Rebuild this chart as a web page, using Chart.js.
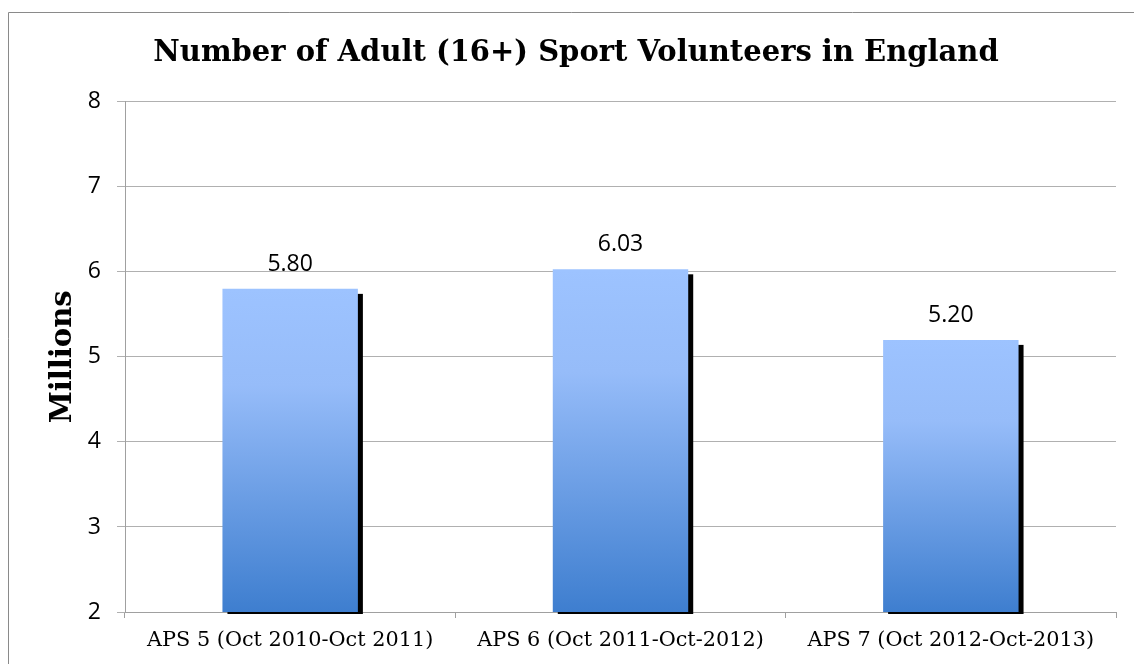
<!DOCTYPE html>
<html><head><meta charset="utf-8">
<script src="https://cdn.jsdelivr.net/npm/chart.js@4/dist/chart.umd.min.js"></script>
<style>html,body{margin:0;padding:0;background:#fff;}#wrap{position:absolute;left:0;top:0;width:1134px;height:664px;}</style>
</head><body><div id="wrap"><canvas id="c" width="1134" height="664"></canvas></div>
<script>
const categories = ["APS 5 (Oct 2010-Oct 2011)", "APS 6 (Oct 2011-Oct-2012)", "APS 7 (Oct 2012-Oct-2013)"];
const volunteers = [5.80, 6.03, 5.20];
const yTicks = [2, 3, 4, 5, 6, 7, 8];
const chartTitle = "Number of Adult (16+) Sport Volunteers in England";
const yTitle = "Millions";

const framePlugin = {
  id: 'frame',
  beforeDraw(chart) {
    const ctx = chart.ctx;
    ctx.save();
    ctx.fillStyle = '#fff';
    ctx.fillRect(0, 0, chart.width, chart.height);
    ctx.strokeStyle = '#8a8a8a';
    ctx.lineWidth = 1;
    ctx.beginPath();
    ctx.moveTo(8.5, chart.height);
    ctx.lineTo(8.5, 12.5);
    ctx.lineTo(chart.width, 12.5);
    ctx.stroke();
    ctx.restore();
  }
};

const shadowPlugin = {
  id: 'barShadow',
  beforeDatasetsDraw(chart) {
    const ctx = chart.ctx, a = chart.chartArea;
    ctx.save();
    ctx.beginPath();
    ctx.rect(a.left, a.top, a.right - a.left, a.bottom - a.top + 2);
    ctx.clip();
    ctx.fillStyle = '#000';
    chart.getDatasetMeta(0).data.forEach(b => {
      const l = b.x - b.width / 2, r = b.x + b.width / 2;
      ctx.fillRect(l + 5, b.y + 5, r - l, b.base - b.y);
    });
    ctx.restore();
  }
};

const labelPlugin = {
  id: 'valueLabels',
  afterDatasetsDraw(chart) {
    const ctx = chart.ctx;
    ctx.save();
    ctx.fillStyle = '#000';
    ctx.font = '23px "Open Sans"';
    ctx.textAlign = 'center';
    ctx.textBaseline = 'alphabetic';
    chart.getDatasetMeta(0).data.forEach((b, i) => {
      ctx.fillText(volunteers[i].toFixed(2), b.x, b.y - 18);
    });
    ctx.restore();
  }
};

function barGradient(context) {
  const chart = context.chart;
  const a = chart.chartArea;
  if (!a) return '#6a9ee8';
  const ys = chart.scales.y;
  const top = ys.getPixelForValue(context.raw);
  const g = chart.ctx.createLinearGradient(0, top, 0, a.bottom);
  g.addColorStop(0, '#9DC3FF');
  g.addColorStop(0.3, '#96BCF9');
  g.addColorStop(1, '#3E7ECF');
  return g;
}

new Chart(document.getElementById('c'), {
  type: 'bar',
  data: {
    labels: categories,
    datasets: [{
      data: volunteers,
      backgroundColor: barGradient,
      borderWidth: 0,
      categoryPercentage: 1.0,
      barPercentage: 0.41
    }]
  },
  plugins: [framePlugin, shadowPlugin, labelPlugin],
  options: {
    responsive: false,
    animation: false,
    layout: { padding: { left: 36, right: 18, top: 0, bottom: 0 } },
    plugins: {
      legend: { display: false },
      tooltip: { enabled: false },
      title: {
        display: true,
        text: chartTitle,
        color: '#000',
        font: { family: '"DejaVu Serif"', size: 29, weight: 'bold' },
        padding: { top: 36, bottom: 31 }
      }
    },
    scales: {
      x: {
        grid: { display: true, drawOnChartArea: false, offset: true, tickLength: 6, color: '#a0a0a0' },
        border: { color: '#a0a0a0' },
        ticks: { color: '#000', font: { family: '"DejaVu Serif"', size: 20.8 }, padding: 10, maxRotation: 0 },
        afterFit(s) { s.height = 52; }
      },
      y: {
        min: 2, max: 8,
        afterBuildTicks(s) { s.ticks = yTicks.map(v => ({ value: v })); },
        grid: { color: '#b0b0b0', tickLength: 8 },
        border: { color: '#a0a0a0' },
        ticks: { color: '#000', font: { family: '"Open Sans"', size: 23 }, padding: 16 },
        title: { display: true, text: yTitle, color: '#000', font: { family: '"DejaVu Serif"', size: 29, weight: 'bold' }, padding: { top: 10, bottom: 0 } },
        afterFit(s) { s.width = 89; }
      }
    }
  }
});
</script></body></html>
